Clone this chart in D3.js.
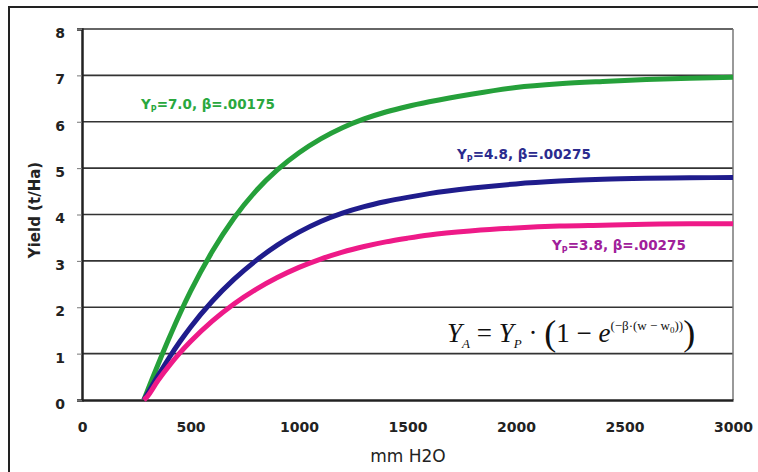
<!DOCTYPE html>
<html><head><meta charset="utf-8">
<script src="https://cdn.jsdelivr.net/npm/d3@7"></script>
<style>body{margin:0;background:#fff}svg{display:block}</style>
</head><body>
<script>
const water = [285,300,350,400,450,500,600,700,800,900,1000,1100,1200,1300,1400,1500,1600,1800,2000,2200,2400,2600,2800,3000];
const yieldGreen = [0,0.18,0.76,1.32,1.85,2.34,3.2,3.92,4.5,4.96,5.33,5.63,5.87,6.06,6.21,6.33,6.43,6.6,6.74,6.82,6.87,6.91,6.94,6.96];
const yieldBlue = [0,0.12,0.52,0.9,1.25,1.57,2.13,2.6,3.0,3.34,3.62,3.85,4.03,4.17,4.28,4.37,4.45,4.57,4.66,4.72,4.76,4.78,4.79,4.8];
const yieldPink = [0,0.07,0.42,0.73,1.01,1.26,1.7,2.07,2.38,2.64,2.86,3.04,3.19,3.31,3.41,3.49,3.56,3.65,3.71,3.75,3.77,3.79,3.8,3.8];
const xTicks = [0,500,1000,1500,2000,2500,3000];
const yTicks = [0,1,2,3,4,5,6,7,8];
const seriesNames = ["Yp=7.0, β=.00175","Yp=4.8, β=.00275","Yp=3.8, β=.00275"];

const W = 758, H = 472;
const FONT = "DejaVu Sans, Verdana, sans-serif";
const svg = d3.select("body").append("svg").attr("width", W).attr("height", H);
const x = d3.scaleLinear().domain([0,3000]).range([82,733]);
const y = d3.scaleLinear().domain([0,8]).range([400,29]);

// outer frame
svg.append("rect").attr("x",9).attr("y",7).attr("width",800).attr("height",520)
  .attr("fill","none").attr("stroke","#222").attr("stroke-width",2);

// gridlines
svg.append("g").selectAll("line").data(yTicks.filter(d=>d>0)).join("line")
  .attr("x1",x(0)).attr("x2",x(3000)).attr("y1",d=>y(d)).attr("y2",d=>y(d))
  .attr("stroke","#333").attr("stroke-width",1.6);
// right border
svg.append("line").attr("x1",x(3000)).attr("x2",x(3000)).attr("y1",y(8)).attr("y2",y(0))
  .attr("stroke","#777").attr("stroke-width",1.5);

// axes
const yAxis = d3.axisLeft(y).tickValues(yTicks).tickSize(5).tickPadding(12);
const gy = svg.append("g").attr("transform",`translate(${x(0)},0)`).call(yAxis);
gy.select(".domain").attr("stroke","#222").attr("stroke-width",2.5);
gy.selectAll(".tick line").attr("stroke","#777");
gy.selectAll("text").attr("font-family",FONT).attr("font-size",14).attr("font-weight","bold").attr("fill","#222").attr("dy","0.6em");

const xAxis = d3.axisBottom(x).tickValues(xTicks).tickFormat(d3.format("d")).tickSize(0).tickPadding(22);
const gx = svg.append("g").attr("transform",`translate(0,${y(0)})`).call(xAxis);
gx.select(".domain").attr("stroke","#222").attr("stroke-width",2.5);
gx.selectAll("text").attr("font-family",FONT).attr("font-size",14).attr("font-weight","bold").attr("fill","#222");

// axis titles
svg.append("text").attr("x",408).attr("y",462).attr("text-anchor","middle")
  .attr("font-family",FONT).attr("font-size",17).attr("fill","#222").text("mm H2O");
svg.append("text").attr("transform","translate(40,210) rotate(-90)").attr("text-anchor","middle")
  .attr("font-family",FONT).attr("font-size",15).attr("font-weight","bold").attr("fill","#222").text("Yield (t/Ha)");

// lines
const series = [
  {vals: yieldGreen, color:"#25a03a"},
  {vals: yieldBlue, color:"#1f1c8c"},
  {vals: yieldPink, color:"#ee1a88"}
];
const line = d3.line().x(d=>x(d[0])).y(d=>y(d[1])).curve(d3.curveMonotoneX);
series.forEach(s=>{
  svg.append("path").datum(water.map((w,i)=>[w,s.vals[i]]))
    .attr("d",line).attr("fill","none").attr("stroke",s.color).attr("stroke-width",5).attr("stroke-linecap","butt");
});

// series labels
function lab(xp, yp, color, name){
  const m = name.match(/^Y(p)(=.*)$/);
  const t = svg.append("text").attr("x",xp).attr("y",yp)
    .attr("font-family",FONT).attr("font-size",13.5).attr("font-weight","bold").attr("fill",color);
  t.append("tspan").text("Y");
  t.append("tspan").attr("font-size",8).attr("dy",3).text("P");
  t.append("tspan").attr("dy",-3).text(m[2]);
}
lab(141,109,"#2aa83e",seriesNames[0]);
lab(457,159,"#2b2b8e",seriesNames[1]);
lab(552,250,"#a0209a",seriesNames[2]);

// formula
const f = svg.append("text").attr("x",447).attr("y",342)
  .attr("font-family","Liberation Serif, Times New Roman, serif").attr("font-size",27).attr("fill","#111");
f.append("tspan").attr("font-style","italic").text("Y");
f.append("tspan").attr("font-style","italic").attr("font-size",13).attr("dy",6).text("A");
f.append("tspan").attr("dy",-6).text(" = ");
f.append("tspan").attr("font-style","italic").text("Y");
f.append("tspan").attr("font-style","italic").attr("font-size",13).attr("dy",6).text("P");
f.append("tspan").attr("dy",-6).text(" · ");
f.append("tspan").attr("font-size",36).attr("dy",3).text("(");
f.append("tspan").attr("dy",-3).text("1 − ");
f.append("tspan").attr("font-style","italic").text("e");
f.append("tspan").attr("font-size",13).attr("dy",-12).text("(−β·(w − w");
f.append("tspan").attr("font-size",9).attr("dy",3).text("0");
f.append("tspan").attr("font-size",13).attr("dy",-3).text("))");
f.append("tspan").attr("font-size",36).attr("dy",15).text(")");
</script>
</body></html>
